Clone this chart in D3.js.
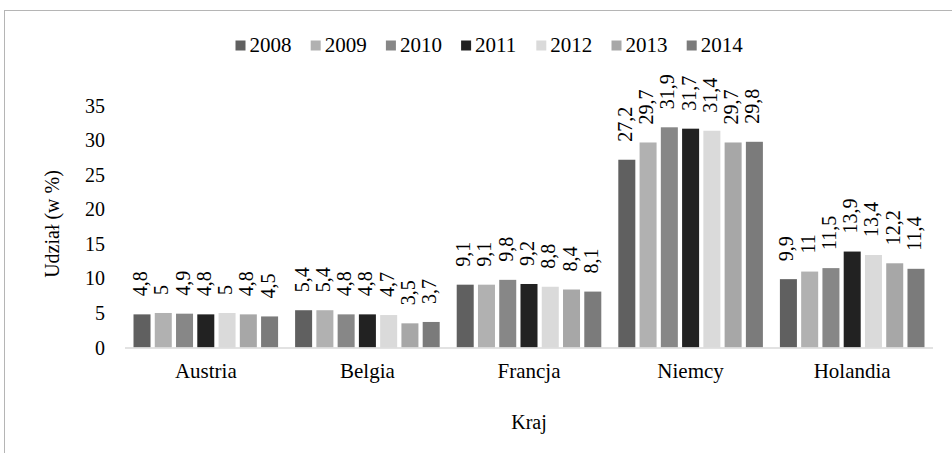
<!DOCTYPE html>
<html>
<head>
<meta charset="utf-8">
<script src="https://cdn.jsdelivr.net/npm/d3@7"></script>
<style>
  body { margin: 0; background: #fff; }
  text { font-family: 'Liberation Serif', 'Times New Roman', Times, 'DejaVu Serif', serif; }
</style>
</head>
<body>
<svg id="svg" width="952" height="453"></svg>
<script>
const countries = ['Austria', 'Belgia', 'Francja', 'Niemcy', 'Holandia'];
const years = ['2008', '2009', '2010', '2011', '2012', '2013', '2014'];
const colors = ['#606060', '#b1b1b1', '#878787', '#222222', '#dadada', '#a7a7a7', '#7b7b7b'];

// one array per year, values in country order
const v2008 = [4.8, 5.4, 9.1, 27.2, 9.9];
const v2009 = [5, 5.4, 9.1, 29.7, 11];
const v2010 = [4.9, 4.8, 9.8, 31.9, 11.5];
const v2011 = [4.8, 4.8, 9.2, 31.7, 13.9];
const v2012 = [5, 4.7, 8.8, 31.4, 13.4];
const v2013 = [4.8, 3.5, 8.4, 29.7, 12.2];
const v2014 = [4.5, 3.7, 8.1, 29.8, 11.4];
const series = [v2008, v2009, v2010, v2011, v2012, v2013, v2014];

const yTicks = [0, 5, 10, 15, 20, 25, 30, 35];

const svg = d3.select('svg');
const FONT = "'Liberation Serif', 'Times New Roman', Times, serif";

// outer frame (cut off on the right and bottom like the reference)
svg.append('rect')
	.attr('x', 4.5).attr('y', 10.5)
	.attr('width', 1000).attr('height', 500)
	.attr('fill', 'none').attr('stroke', '#b5b5b5');

const x0 = d3.scaleBand().domain(countries).range([125, 933]).padding(0);
const x1 = d3.scaleBand().domain(years).range([0, x0.bandwidth()])
	.paddingInner(0.2).paddingOuter(0.4);
const y = d3.scaleLinear().domain([0, 35]).range([347.5, 105.9]);

const fmt = (v) => String(v).replace('.', ',');

// y tick labels
svg.append('g').selectAll('text')
	.data(yTicks).enter().append('text')
	.attr('x', 105).attr('y', (d) => y(d))
	.attr('text-anchor', 'end').attr('dominant-baseline', 'central')
	.attr('font-family', FONT)
	.attr('font-size', 20).attr('fill', '#000')
	.text((d) => d);

// bars
const groups = svg.append('g').selectAll('g')
	.data(years).enter().append('g')
	.attr('fill', (d, i) => colors[i]);

groups.selectAll('rect')
	.data((yr, i) => countries.map((c, j) => ({ c, yr, v: series[i][j] })))
	.enter().append('rect')
	.attr('x', (d) => x0(d.c) + x1(d.yr))
	.attr('y', (d) => y(d.v))
	.attr('width', x1.bandwidth())
	.attr('height', (d) => y(0) - y(d.v));

// data labels, rotated
groups.selectAll('text')
	.data((yr, i) => countries.map((c, j) => ({ c, yr, v: series[i][j] })))
	.enter().append('text')
	.attr('transform', (d) => {
		const cx = x0(d.c) + x1(d.yr) + x1.bandwidth() / 2 - 2;
		return `translate(${cx},${y(d.v) - 18}) rotate(-90)`;
	})
	.attr('dominant-baseline', 'central')
	.attr('font-family', FONT)
	.attr('font-size', 20).attr('fill', '#000')
	.text((d) => fmt(d.v));

// baseline
svg.append('line')
	.attr('x1', 125).attr('x2', 933)
	.attr('y1', y(0) + 0.5).attr('y2', y(0) + 0.5)
	.attr('stroke', '#d9d9d9').attr('stroke-width', 1.5);

// category labels
svg.append('g').selectAll('text')
	.data(countries).enter().append('text')
	.attr('x', (d) => x0(d) + x0.bandwidth() / 2)
	.attr('y', 378)
	.attr('text-anchor', 'middle')
	.attr('font-family', FONT)
	.attr('font-size', 21).attr('fill', '#000')
	.text((d) => d);

// axis titles
svg.append('text')
	.attr('x', 529).attr('y', 429)
	.attr('text-anchor', 'middle')
	.attr('font-family', FONT)
	.attr('font-size', 20)
	.text('Kraj');

svg.append('text')
	.attr('transform', 'translate(59,224) rotate(-90)')
	.attr('text-anchor', 'middle')
	.attr('font-family', FONT)
	.attr('font-size', 20)
	.text('Udział (w %)');

// legend
const legend = svg.append('g').selectAll('g')
	.data(years).enter().append('g')
	.attr('transform', (d, i) => `translate(${235.5 + i * 75.2},0)`);
legend.append('rect')
	.attr('x', 0).attr('y', 40.5).attr('width', 10).attr('height', 10)
	.attr('fill', (d, i) => colors[i]);
legend.append('text')
	.attr('x', 14).attr('y', 52)
	.attr('font-family', FONT)
	.attr('font-size', 21)
	.text((d) => d);
</script>
</body>
</html>
